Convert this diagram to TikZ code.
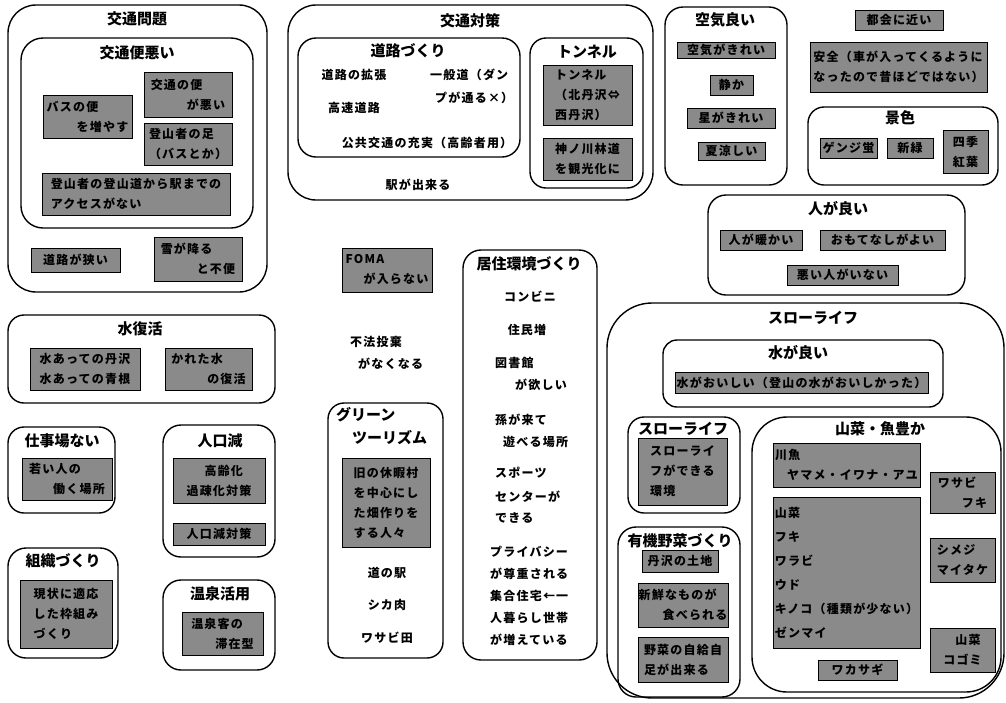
\documentclass[tikz,border=0pt]{standalone}
\usepackage{fontspec}
\setmainfont{Noto Sans CJK JP}
\newfontfamily\bodyfont{Noto Sans CJK JP}[LetterSpace=10]
\newcommand\grpbox[5]{\draw[grp,rounded corners=#5] (#1,#2) rectangle (#3,#4);}
\newcommand\shbox[6]{\draw[shade] (#2,#3) rectangle (#4,#5);
  \node[txt] (#1) at ({(#2+#4)/2},{(#3+#5)/2}) {#6};}
\begin{document}
\begin{tikzpicture}[x=1pt,y=-1pt,
  grp/.style={draw=black,line width=1.4pt},
  shade/.style={draw=black,line width=0.9pt,fill=black!46},
  ttl/.style={font=\fontsize{15}{18}\selectfont\bfseries,inner sep=0pt},
  txt/.style={font=\bodyfont\fontsize{12}{20}\selectfont\bfseries,align=left,inner sep=0pt},
  lbl/.style={txt,anchor=west},
  ctr/.style={txt}]
\useasboundingbox (0,0) rectangle (1006,702);
\fill[white] (0,0) rectangle (1006,702);

% ---------- group boxes ----------
\grpbox{8}{5}{267}{292}{28}
\grpbox{21}{38}{253}{228}{22}
\grpbox{288}{5}{653}{200}{28}
\grpbox{298}{38}{520}{157}{18}
\grpbox{530}{38}{643}{188}{16}
\grpbox{665}{7}{787}{185}{18}
\grpbox{808}{107}{998}{185}{16}
\grpbox{708}{195}{965}{295}{18}
\grpbox{8}{315}{275}{403}{16}
\grpbox{8}{427}{115}{513}{16}
\grpbox{163}{425}{275}{557}{18}
\grpbox{8}{548}{118}{658}{18}
\grpbox{163}{580}{275}{670}{18}
\grpbox{328}{403}{443}{658}{16}
\grpbox{463}{250}{597}{660}{18}
\grpbox{607}{303}{1004}{698}{45}
\grpbox{663}{340}{943}{407}{14}
\grpbox{628}{417}{740}{513}{16}
\grpbox{618}{527}{740}{697}{18}
\grpbox{752}{417}{1001}{692}{35}

% ---------- titles ----------
\node[ttl] (tA) at (137,19) {交通問題};
\node[ttl] (tB) at (137,53) {交通便悪い};
\node[ttl] (tC) at (470,21) {交通対策};
\node[ttl] (tD) at (408,51) {道路づくり};
\node[ttl] (tE) at (587,52) {トンネル};
\node[ttl] (tF) at (725,20) {空気良い};
\node[ttl] (tG) at (900,118) {景色};
\node[ttl] (tH) at (838,209) {人が良い};
\node[ttl] (tI) at (140,329) {水復活};
\node[ttl] (tJ) at (62,441) {仕事場ない};
\node[ttl] (tK) at (220,441) {人口減};
\node[ttl] (tL) at (63,561) {組織づくり};
\node[ttl] (tM) at (220,594) {温泉活用};
\node[ttl,anchor=west] (tN1) at (336,415) {グリーン};
\node[ttl,anchor=west] (tN2) at (352,438) {ツーリズム};
\node[ttl] (tO) at (529,264) {居住環境づくり};
\node[ttl] (tP) at (813,318) {スローライフ};
\node[ttl] (tQ) at (798,353) {水が良い};
\node[ttl] (tR) at (683,429) {スローライフ};
\node[ttl] (tS) at (680,541) {有機野菜づくり};
\node[ttl] (tT) at (880,429) {山菜・魚豊か};

% ---------- shaded boxes ----------
\shbox{s1}{43}{95}{132}{138}{バスの便\\\hspace*{2.5em}を増やす}
\shbox{s2}{144}{72}{232}{117}{交通の便\\\hspace*{3em}が悪い}
\shbox{s3}{144}{123}{232}{165}{登山者の足\\（バスとか）}
\shbox{s4}{42}{173}{230}{215}{登山者の登山道から駅までの\\アクセスがない}
\shbox{s5}{31}{248}{120}{272}{道路が狭い}
\shbox{s6}{154}{237}{242}{281}{雪が降る\\\hspace*{3em}と不便}
\shbox{s7}{543}{65}{632}{125}{トンネル\\（北丹沢⇔\\西丹沢）}
\shbox{s8}{543}{138}{632}{180}{神ノ川林道\\を観光化に}
\shbox{s9}{677}{42}{775}{58}{空気がきれい}
\shbox{s10}{710}{75}{753}{95}{静か}
\shbox{s11}{687}{108}{775}{128}{星がきれい}
\shbox{s12}{698}{142}{765}{160}{夏涼しい}
\shbox{s13}{855}{10}{943}{30}{都会に近い}
\shbox{s14}{810}{42}{987}{92}{安全（車が入ってくるように\\なったので昔ほどではない）}
\shbox{s15}{820}{138}{877}{158}{ゲンジ蛍}
\shbox{s16}{887}{138}{933}{158}{新緑}
\shbox{s17}{943}{130}{988}{173}{四季\\紅葉}
\shbox{s18}{720}{230}{802}{250}{人が暖かい}
\shbox{s19}{820}{230}{945}{250}{おもてなしがよい}
\shbox{s20}{787}{265}{898}{285}{悪い人がいない}
\shbox{s21}{30}{348}{140}{390}{水あっての丹沢\\水あっての青根}
\shbox{s22}{165}{348}{252}{390}{かれた水\\\hspace*{3em}の復活}
\shbox{s23}{22}{458}{112}{500}{若い人の\\\hspace*{2em}働く場所}
\shbox{s24}{173}{458}{265}{503}{\hspace*{1.5em}高齢化\\過疎化対策}
\shbox{s25}{173}{523}{265}{545}{人口減対策}
\shbox{s26}{20}{580}{112}{648}{現状に適応\\した枠組み\\づくり}
\shbox{s27}{182}{612}{263}{655}{温泉客の\\\hspace*{2em}滞在型}
\shbox{s28}{342}{248}{432}{292}{FOMA\\\hspace*{1.5em}が入らない}
\shbox{s29}{342}{458}{430}{547}{旧の休暇村\\を中心にし\\た畑作りを\\する人々}
\shbox{s30}{675}{372}{928}{393}{水がおいしい（登山の水がおいしかった）}
\shbox{s31}{638}{438}{727}{505}{スローライ\\フができる\\環境}
\shbox{s32}{642}{550}{718}{572}{丹沢の土地}
\shbox{s33}{638}{583}{728}{627}{新鮮なものが\\\hspace*{2em}食べられる}
\shbox{s34}{638}{637}{728}{682}{野菜の自給自\\足が出来る}
\shbox{s35}{773}{443}{920}{487}{川魚\\\hspace*{1em}ヤマメ・イワナ・アユ}
\shbox{s36}{773}{497}{920}{648}{山菜\\[4pt]フキ\\[4pt]ワラビ\\[4pt]ウド\\[4pt]キノコ（種類が少ない）\\[4pt]ゼンマイ}
\shbox{s37}{930}{472}{995}{513}{ワサビ\\\hspace*{2em}フキ}
\shbox{s38}{930}{538}{995}{582}{シメジ\\マイタケ}
\shbox{s39}{930}{628}{995}{672}{\hspace*{1em}山菜\\コゴミ}
\shbox{s40}{818}{660}{897}{680}{ワカサギ}

% ---------- plain texts ----------
\node[ctr] (p1) at (354,75) {道路の拡張};
\node[lbl] (p2) at (430,75) {一般道（ダン};
\node[lbl] (p3) at (435,98) {プが通る×）};
\node[ctr] (p4) at (354,108) {高速道路};
\node[ctr] (p5) at (427,143) {公共交通の充実（高齢者用）};
\node[ctr] (p6) at (418,185) {駅が出来る};
\node[lbl] (p7) at (350,342) {不法投棄};
\node[lbl] (p8) at (358,364) {がなくなる};
\node[ctr] (p9) at (387,573) {道の駅};
\node[ctr] (p10) at (387,605) {シカ肉};
\node[ctr] (p11) at (387,638) {ワサビ田};
\node[ctr] (p12) at (530,297) {コンビニ};
\node[ctr] (p13) at (527,330) {住民増};
\node[lbl] (p14) at (495,363) {図書館};
\node[lbl] (p15) at (515,385) {が欲しい};
\node[lbl] (p16) at (495,420) {孫が来て};
\node[lbl] (p17) at (503,442) {遊べる場所};
\node[lbl] (p18) at (495,473) {スポーツ};
\node[lbl] (p19) at (495,497) {センターが};
\node[lbl] (p20) at (495,518) {できる};
\node[lbl] (p21) at (490,552) {プライバシー};
\node[lbl] (p22) at (490,574) {が尊重される};
\node[lbl] (p23) at (490,596) {集合住宅←一};
\node[lbl] (p24) at (490,618) {人暮らし世帯};
\node[lbl] (p25) at (490,640) {が増えている};
\end{tikzpicture}
\end{document}
